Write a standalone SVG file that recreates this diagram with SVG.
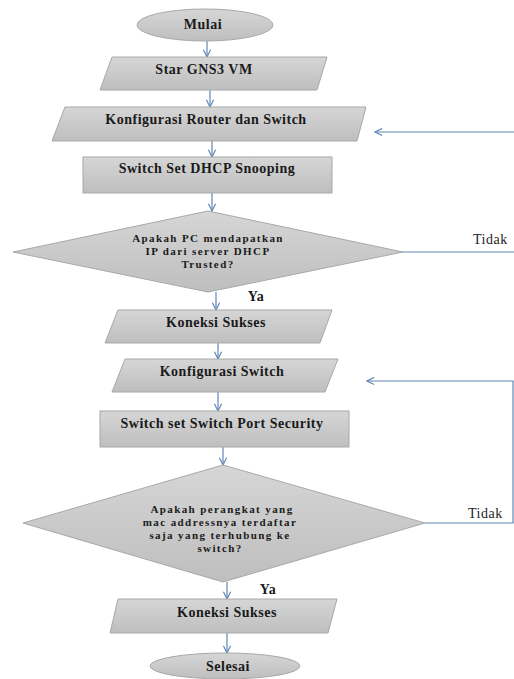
<svg xmlns="http://www.w3.org/2000/svg" width="514" height="679" viewBox="0 0 514 679">
<style>
.shape{fill:url(#g);stroke:#a8a8a8;stroke-width:1}
.t{font-family:"Liberation Serif","Times New Roman",serif;font-size:14px;font-weight:bold;fill:#1a1a1a;text-anchor:middle;letter-spacing:0.5px}
.d{font-family:"Liberation Serif","Times New Roman",serif;font-size:11px;font-weight:bold;fill:#1a1a1a;text-anchor:middle;letter-spacing:1.4px}
.lbl{font-family:"Liberation Serif","Times New Roman",serif;font-size:14px;fill:#222;letter-spacing:0.5px}
.c{stroke:#5f87b5;stroke-width:1.2;fill:none}
</style>
<defs>
<linearGradient id="g" x1="0" y1="0" x2="0" y2="1">
<stop offset="0" stop-color="#d6d6d6"/>
<stop offset="1" stop-color="#bebebe"/>
</linearGradient>
<marker id="a" viewBox="0 0 10 10" refX="9" refY="5" markerWidth="9" markerHeight="9" markerUnits="userSpaceOnUse" orient="auto">
<path d="M1,1 L9,5 L1,9" fill="none" stroke="#5f87b5" stroke-width="1.3"/>
</marker>
</defs>
<rect width="514" height="679" fill="#ffffff"/>

<g id="connectors">
<line class="c" x1="207" y1="41" x2="207" y2="57" marker-end="url(#a)"/>
<line class="c" x1="210" y1="90" x2="210" y2="107" marker-end="url(#a)"/>
<line class="c" x1="212" y1="141" x2="212" y2="157" marker-end="url(#a)"/>
<line class="c" x1="212" y1="193" x2="212" y2="211" marker-end="url(#a)"/>
<line class="c" x1="216" y1="292" x2="216" y2="310" marker-end="url(#a)"/>
<line class="c" x1="218" y1="343" x2="218" y2="359" marker-end="url(#a)"/>
<line class="c" x1="218" y1="392" x2="218" y2="411" marker-end="url(#a)"/>
<line class="c" x1="223" y1="447" x2="223" y2="465" marker-end="url(#a)"/>
<line class="c" x1="227" y1="582" x2="227" y2="599" marker-end="url(#a)"/>
<line class="c" x1="227" y1="633" x2="227" y2="653" marker-end="url(#a)"/>
<line class="c" x1="403" y1="252" x2="514" y2="252"/>
<line class="c" x1="514" y1="132" x2="375" y2="132" marker-end="url(#a)"/>
<polyline class="c" points="425,523 513,523 513,381 367,381" marker-end="url(#a)"/>
<text class="lbl" x="473" y="244">Tidak</text>
<text class="lbl" x="468" y="518">Tidak</text>
<text class="t" x="256" y="301">Ya</text>
<text class="t" x="268" y="594">Ya</text>
</g>

<g id="mulai">
<ellipse class="shape" cx="205" cy="25" rx="68" ry="16"/>
<text class="t" x="203" y="29">Mulai</text>
</g>
<g id="star-gns3">
<polygon class="shape" points="112,57 327,57 317,90 100,90"/>
<text class="t" x="204" y="74">Star GNS3 VM</text>
</g>
<g id="konfigurasi-router">
<polygon class="shape" points="65,107 366,107 357,141 52,141"/>
<text class="t" x="206" y="124">Konfigurasi Router dan Switch</text>
</g>
<g id="dhcp-snooping">
<rect class="shape" x="83" y="157" width="249" height="36"/>
<text class="t" x="207" y="173">Switch Set DHCP Snooping</text>
</g>
<g id="decision-dhcp">
<polygon class="shape" points="208,211 403,252 208,292 13,252"/>
<text class="d" x="208" y="242">Apakah PC mendapatkan</text>
<text class="d" x="208" y="255">IP dari server DHCP</text>
<text class="d" x="208" y="268">Trusted?</text>
</g>
<g id="koneksi-sukses-1">
<polygon class="shape" points="118,310 332,310 320,343 105,343"/>
<text class="t" x="216" y="327">Koneksi Sukses</text>
</g>
<g id="konfigurasi-switch">
<polygon class="shape" points="125,359 338,359 325,392 112,392"/>
<text class="t" x="222" y="376">Konfigurasi Switch</text>
</g>
<g id="port-security">
<rect class="shape" x="100" y="411" width="249" height="36"/>
<text class="t" x="222" y="428">Switch set Switch Port Security</text>
</g>
<g id="decision-mac">
<polygon class="shape" points="223,465 425,523 223,582 23,523"/>
<text class="d" x="222" y="513">Apakah perangkat yang</text>
<text class="d" x="220" y="526">mac addressnya terdaftar</text>
<text class="d" x="220" y="539">saja yang terhubung ke</text>
<text class="d" x="220" y="552">switch?</text>
</g>
<g id="koneksi-sukses-2">
<polygon class="shape" points="118,599 337,599 328,633 110,633"/>
<text class="t" x="227" y="617">Koneksi Sukses</text>
</g>
<g id="selesai">
<ellipse class="shape" cx="225" cy="666" rx="75" ry="13"/>
<text class="t" x="228" y="671">Selesai</text>
</g>
</svg>
